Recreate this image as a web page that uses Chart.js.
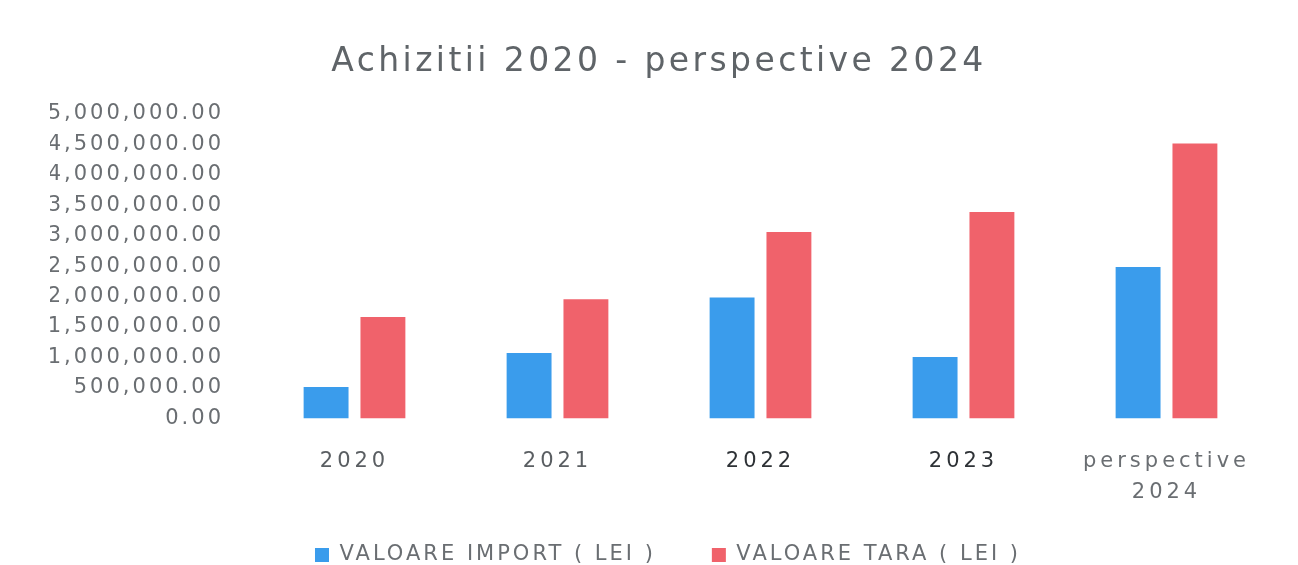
<!DOCTYPE html>
<html>
<head>
<meta charset="utf-8">
<script src="https://cdn.jsdelivr.net/npm/chart.js@4/dist/chart.umd.min.js"></script>
<style>
  html, body { margin: 0; padding: 0; background: #ffffff; }
  #wrap { width: 1298px; height: 565px; position: relative; }
</style>
</head>
<body>
<div id="wrap"><canvas id="c"></canvas></div>
<script>
const categories = ['2020', '2021', '2022', '2023', ['perspective', '2024']];
const importValues = [518000, 1075000, 1984000, 1010000, 2485000];
const taraValues = [1666000, 1956000, 3059000, 3387000, 4508000];
const seriesNames = ['VALOARE IMPORT ( LEI )', 'VALOARE TARA ( LEI )'];
const titleText = 'Achizitii 2020 - perspective 2024';
const yMax = 5000000;
const yStep = 500000;

const FONT = "'DejaVu Sans', sans-serif";

function wrapSpacing(chart, obj, method, spacing) {
  if (!obj || !obj[method] || obj['_w_' + method]) return;
  const orig = obj[method].bind(obj);
  obj[method] = function () {
    const c = chart.ctx;
    const prev = c.letterSpacing;
    c.letterSpacing = spacing;
    const r = orig.apply(null, arguments);
    c.letterSpacing = prev;
    return r;
  };
  obj['_w_' + method] = true;
}

const spacingPlugin = {
  id: 'spacing',
  beforeLayout(chart) {
    chart.ctx.letterSpacing = '0px';
    wrapSpacing(chart, chart.titleBlock, 'draw', '3.4px');
    wrapSpacing(chart, chart.legend, 'fit', '3px');
    wrapSpacing(chart, chart.legend, 'draw', '3px');
  },
  afterLayout(chart) {
    wrapSpacing(chart, chart.scales.x, 'drawLabels', '4px');
    wrapSpacing(chart, chart.scales.y, 'drawLabels', '3px');
    chart.scales.x._computeLabelArea = () => undefined;
    chart.legend.left += 9;
    chart.legend.right += 9;
  }
};

const ctx = document.getElementById('c');
const chart = new Chart(ctx, {
  type: 'bar',
  data: {
    labels: categories,
    datasets: [
      { label: seriesNames[0], data: importValues, backgroundColor: '#3a9cec',
        categoryPercentage: 0.56, barPercentage: 0.79 },
      { label: seriesNames[1], data: taraValues, backgroundColor: '#f0626b',
        categoryPercentage: 0.56, barPercentage: 0.79 }
    ]
  },
  options: {
    responsive: true,
    maintainAspectRatio: false,
    animation: false,
    layout: { padding: { left: 50, right: 30, top: 0, bottom: 0 } },
    plugins: {
      tooltip: { enabled: false },
      title: {
        display: true,
        text: titleText,
        color: '#5f6468',
        font: { family: FONT, size: 33, weight: 'normal' },
        padding: { top: 43, bottom: 31 }
      },
      legend: {
        position: 'bottom',
        maxHeight: 76.5,
        labels: {
          color: '#6a6e72',
          font: { family: FONT, size: 21 },
          boxWidth: 14,
          boxHeight: 14,
          padding: 56
        }
      }
    },
    scales: {
      x: {
        grid: { display: false, drawTicks: false },
        border: { display: false },
        ticks: {
          color: ['#5a5e62', '#5a5e62', '#2e3236', '#2e3236', '#6a6e72'],
          font: { family: FONT, size: 21, lineHeight: 1.45 },
          padding: 28,
          maxRotation: 0,
          autoSkip: false
        },
        afterFit(scale) { scale.height = 70; }
      },
      y: {
        min: 0,
        max: yMax,
        grid: { display: false, drawTicks: false },
        border: { display: false },
        ticks: {
          stepSize: yStep,
          color: '#6a6e72',
          font: { family: FONT, size: 21 },
          padding: 29,
          callback: (v) => Number(v).toLocaleString('en-US', { minimumFractionDigits: 2, maximumFractionDigits: 2 })
        },
        afterFit(scale) { scale.width = 203; }
      }
    }
  },
  plugins: [spacingPlugin]
});
chart.update();
</script>
</body>
</html>
